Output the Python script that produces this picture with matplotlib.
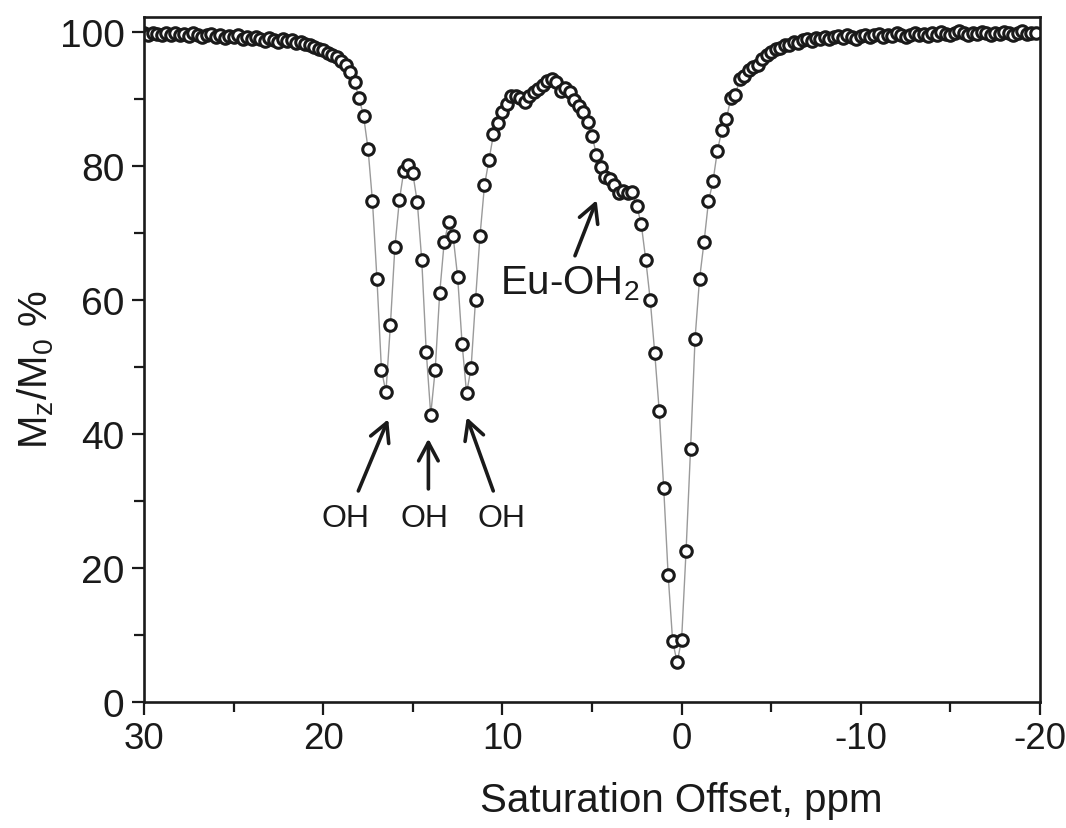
import numpy as np
import matplotlib
matplotlib.use("Agg")
import matplotlib.pyplot as plt
from matplotlib.ticker import MultipleLocator

plt.rcParams['font.family'] = ['Liberation Sans', 'DejaVu Sans']
plt.rcParams['mathtext.default'] = 'regular'
plt.rcParams['axes.unicode_minus'] = False

# saturation offsets sampled every 0.25 ppm from 30 down to -19.75
offset_ppm = np.arange(30.0, -20.0, -0.25)

# Mz/M0 (%), 4 points per ppm, grouped by region
left_plateau = [
    99.8, 99.6, 99.9, 99.7,   # 30
    99.5, 99.8, 99.6, 99.9,   # 29
    99.5, 99.7, 99.4, 99.8,   # 28
    99.6, 99.2, 99.5, 99.7,   # 27
    99.3, 99.6, 99.1, 99.4,   # 26
    99.2, 99.5, 99.0, 99.3,   # 25
    98.9, 99.2, 99.0, 98.7,   # 24
    99.1, 98.8, 98.5, 98.9,   # 23
    98.6, 98.8, 98.4, 98.5,   # 22
    98.2, 98.0, 97.8, 97.5,   # 21
    97.3, 96.9, 96.6, 96.2,   # 20
    95.7, 95.1, 94.0, 92.5,   # 19
]
oh_peaks = [
    90.1, 87.5, 82.6, 74.7,   # 18
    63.1, 49.6, 46.2, 56.3,   # 17
    67.9, 74.9, 79.3, 80.2,   # 16
    78.9, 74.6, 65.9, 52.3,   # 15
    42.9, 49.6, 61.0, 68.6,   # 14
    71.6, 69.5, 63.5, 53.5,   # 13
    46.1, 49.8, 60.0, 69.6,   # 12
    77.1, 80.9, 84.7, 86.4,   # 11
]
eu_hump = [
    88.0, 89.3, 90.4, 90.5,   # 10
    90.2, 89.5, 90.5, 91.0,   # 9
    91.5, 92.1, 92.7, 93.0,   # 8
    92.6, 91.2, 91.7, 91.0,   # 7
    89.9, 89.0, 88.0, 86.5,   # 6
    84.5, 81.7, 79.8, 78.4,   # 5
    78.1, 77.1, 75.9, 76.3,   # 4
    76.0, 76.1, 74.0, 71.3,   # 3
]
water_peak = [
    66.0, 60.0, 52.1, 43.5,   # 2
    32.0, 18.9, 9.1, 5.9,     # 1
    9.3, 22.6, 37.8, 54.2,    # 0
    63.1, 68.6, 74.7, 77.7,   # -1
    82.3, 85.4, 87.0, 90.2,   # -2
    90.6, 93.0, 93.5, 94.3,   # -3
]
right_plateau = [
    94.8, 95.1, 95.9, 96.5,   # -4
    97.0, 97.4, 97.6, 98.0,   # -5
    98.1, 98.5, 98.4, 98.8,   # -6
    99.0, 98.7, 99.1, 99.0,   # -7
    99.3, 98.9, 99.2, 99.4,   # -8
    99.1, 99.5, 99.3, 99.0,   # -9
    99.4, 99.6, 99.2, 99.5,   # -10
    99.7, 99.3, 99.6, 99.4,   # -11
    99.8, 99.5, 99.2, 99.6,   # -12
    99.9, 99.5, 99.7, 99.4,   # -13
    99.8, 99.6, 100.0, 99.7,  # -14
    99.5, 99.9, 100.2, 99.8,  # -15
    99.6, 99.9, 99.7, 100.0,  # -16
    99.8, 99.5, 99.9, 99.7,   # -17
    100.0, 99.8, 99.6, 99.9,  # -18
    100.1, 99.7, 99.9, 99.8,  # -19
]
mz_percent = left_plateau + oh_peaks + eu_hump + water_peak + right_plateau

# annotation labels and where they sit
oh_labels = ['OH', 'OH', 'OH']
oh_label_x = [18.78, 14.32, 10.04]
oh_arrow_tail = [(18.04, 31.5), (14.13, 31.8), (10.51, 31.5)]
oh_arrow_head = [(16.37, 42.2), (14.13, 39.3), (11.99, 42.5)]

ink = '#1a1a1a'

fig = plt.figure(figsize=(10.66, 8.29), dpi=100)
ax = fig.add_axes([0.1351, 0.152, 0.8405, 0.826])

ax.plot(offset_ppm, mz_percent, '-', color='#9a9a9a', lw=1.0, zorder=1)
ax.plot(offset_ppm, mz_percent, 'o', ms=8.3, mfc='white', mec=ink, mew=2.2,
        zorder=2)

ax.set_xlim(30, -20)
ax.set_ylim(0, 102.2)
ax.xaxis.set_major_locator(MultipleLocator(10))
ax.xaxis.set_minor_locator(MultipleLocator(5))
ax.yaxis.set_major_locator(MultipleLocator(20))
ax.yaxis.set_minor_locator(MultipleLocator(10))

for side in ax.spines.values():
    side.set_linewidth(1.9)
    side.set_color(ink)
ax.tick_params(which='both', direction='out', top=False, right=False,
               width=1.6, color=ink, labelsize=28, labelcolor=ink)
ax.tick_params(axis='x', labelsize=26.5)
ax.tick_params(which='major', length=9, pad=5)
ax.tick_params(which='minor', length=7)

ax.set_xlabel('Saturation Offset, ppm', fontsize=29, color=ink)
ax.xaxis.set_label_coords(0.6, -0.115)
ax.set_ylabel('M$_z$/M$_0$ %', fontsize=29, color=ink)
ax.yaxis.set_label_coords(-0.098, 0.486)

arrow_kw = dict(arrowstyle='->,head_length=0.6,head_width=0.32',
                lw=2.6, color=ink, mutation_scale=22, shrinkA=0, shrinkB=0)
for label, lx, tail, head in zip(oh_labels, oh_label_x, oh_arrow_tail, oh_arrow_head):
    ax.text(lx, 27.4, label, fontsize=23, ha='center', va='center', color=ink)
    ax.annotate('', xy=head, xytext=tail, arrowprops=arrow_kw)

ax.annotate('', xy=(4.74, 74.9), xytext=(5.95, 66.6), arrowprops=arrow_kw)
ax.text(10.13, 61.0, 'Eu-OH$_2$', fontsize=29, ha='left', va='baseline',
        color=ink)

fig.savefig('out.png', dpi=100)
